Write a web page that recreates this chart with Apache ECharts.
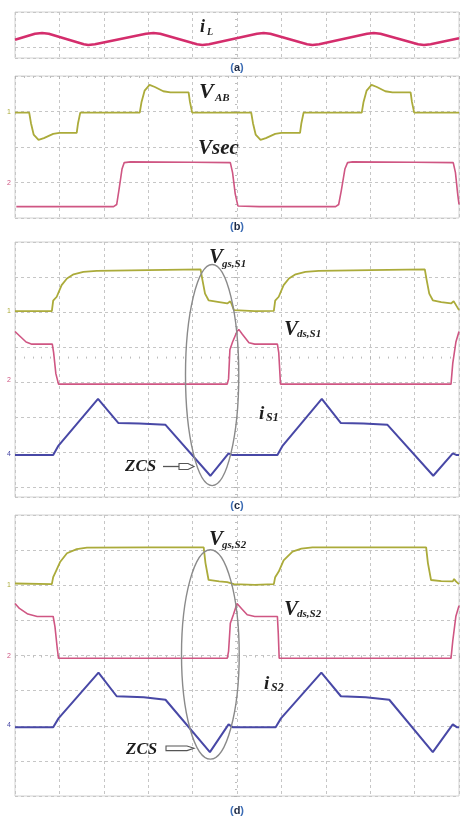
<!DOCTYPE html>
<html>
<head>
<meta charset="utf-8">
<script src="https://cdn.jsdelivr.net/npm/echarts@6/dist/echarts.min.js"></script>
<style>
  html, body { margin: 0; padding: 0; background: #ffffff; }
  #main { width: 461px; height: 820px; }
</style>
</head>
<body>
<div id="main"></div>
<script>
// Scope captures: time in screen divisions (0..10), level in vertical divisions
// relative to each channel's ground marker.

// (a) inductor current
const iL = [[0,-0.02],[0.45,0.15],[0.61,0.17],[0.76,0.15],[1.55,-0.15],[1.65,-0.17],[1.8,-0.15],
  [2.95,0.15],[3.12,0.17],[3.27,0.15],[4.1,-0.15],[4.22,-0.17],[4.37,-0.15],[5.45,0.15],[5.6,0.17],
  [5.75,0.15],[6.58,-0.15],[6.7,-0.17],[6.85,-0.15],[7.93,0.15],[8.08,0.17],[8.23,0.15],[9.08,-0.15],
  [9.21,-0.17],[9.36,-0.15],[10,0.02]];

// (b) bridge voltage and secondary voltage
const vAB = [[0,0],[0.32,0],[0.36,-0.3],[0.42,-0.62],[0.53,-0.77],[0.65,-0.72],[0.86,-0.6],[1.0,-0.57],
  [1.39,-0.57],[1.42,-0.3],[1.47,0],[2.81,0],[2.85,0.3],[2.92,0.62],[3.03,0.78],[3.15,0.72],[3.34,0.6],
  [3.5,0.57],[3.91,0.57],[3.94,0.3],[3.99,0],[5.32,0],[5.36,-0.3],[5.42,-0.62],[5.53,-0.77],[5.65,-0.72],
  [5.86,-0.6],[6.0,-0.57],[6.42,-0.57],[6.45,-0.3],[6.5,0],[7.81,0],[7.85,0.3],[7.92,0.62],[8.03,0.78],
  [8.15,0.72],[8.34,0.6],[8.5,0.57],[8.91,0.57],[8.94,0.3],[8.99,0],[10,0]];
const vSec = [[0.03,-0.66],[2.22,-0.66],[2.29,-0.6],[2.34,-0.2],[2.41,0.4],[2.46,0.58],[2.6,0.6],[4.0,0.59],
  [4.85,0.58],[4.9,0.3],[4.96,-0.3],[5.02,-0.64],[5.5,-0.66],[7.22,-0.66],[7.29,-0.6],[7.35,-0.2],
  [7.43,0.4],[7.49,0.58],[7.6,0.6],[9.0,0.59],[9.87,0.58],[9.92,0.3],[9.97,-0.3],[10,-0.6]];

// (c) switch S1: gate voltage, drain-source voltage, switch current
const vgsS1 = [[0,0],[0.83,0],[0.86,0.3],[0.94,0.41],[1.05,0.74],[1.17,0.93],[1.32,1.05],[1.54,1.12],
  [1.84,1.15],[3.0,1.17],[4.18,1.19],[4.22,0.9],[4.28,0.5],[4.36,0.31],[4.6,0.26],[4.78,0.22],[4.85,0.28],
  [4.88,0.2],[4.93,0.03],[5.4,0],[5.83,0.01],[5.86,0.3],[5.94,0.41],[6.05,0.74],[6.17,0.93],[6.32,1.05],
  [6.54,1.12],[6.84,1.15],[8.0,1.17],[9.23,1.19],[9.27,0.9],[9.33,0.5],[9.41,0.31],[9.6,0.26],[9.82,0.22],
  [9.88,0.28],[9.92,0.2],[10,0.03]];
const vdsS1 = [[0,1.5],[0.1,1.38],[0.25,1.2],[0.38,1.14],[0.84,1.14],[0.87,0.9],[0.92,0.3],[0.98,0],
  [4.78,0],[4.81,0.15],[4.84,0.98],[4.9,1.2],[5.0,1.5],[5.04,1.56],[5.12,1.42],[5.27,1.18],[5.4,1.14],
  [5.91,1.14],[5.94,0.9],[5.98,0],[9.82,0],[9.86,0.6],[9.93,1.2],[10,1.5]];
const iS1 = [[0,0],[0.86,0],[0.98,0.27],[1.87,1.6],[2.33,0.91],[2.8,0.9],[3.39,0.86],[4.4,-0.59],
  [4.81,0.05],[4.9,0],[5.91,0],[6.03,0.27],[6.91,1.6],[7.34,0.91],[7.85,0.9],[8.39,0.86],[9.42,-0.59],
  [9.86,0.05],[9.95,0],[10,0]];

// (d) switch S2: gate voltage, drain-source voltage, switch current
const vgsS2 = [[0,0.02],[0.83,0],[0.86,0.2],[0.9,0.31],[1.02,0.64],[1.17,0.88],[1.39,1.0],[1.62,1.04],
  [3.0,1.05],[4.25,1.05],[4.29,0.6],[4.36,0.12],[4.6,0.08],[4.78,0.06],[4.93,0],[5.4,-0.02],[5.83,0],
  [5.86,0.2],[5.94,0.36],[6.05,0.68],[6.25,0.93],[6.45,1.01],[6.7,1.05],[8.0,1.05],[9.26,1.05],
  [9.3,0.6],[9.37,0.12],[9.6,0.09],[9.86,0.08],[9.89,0.15],[9.93,0.08],[10,0]];
const vdsS2 = [[0,1.56],[0.1,1.42],[0.29,1.26],[0.5,1.19],[0.86,1.19],[0.9,0.9],[0.95,0.3],[0.98,0],
  [4.78,0],[4.81,0.2],[4.85,1.0],[4.92,1.25],[5.0,1.56],[5.1,1.42],[5.23,1.24],[5.4,1.19],[5.91,1.19],
  [5.93,0.7],[5.95,0],[9.82,0],[9.86,0.5],[9.93,1.2],[10,1.5]];
const iS2 = [[0,0],[0.86,0],[0.98,0.25],[1.88,1.55],[2.29,0.88],[2.9,0.85],[3.39,0.78],[4.39,-0.71],
  [4.81,0.08],[4.9,0],[5.87,0],[5.99,0.25],[6.9,1.55],[7.34,0.88],[7.9,0.85],[8.43,0.78],[9.41,-0.71],
  [9.86,0.08],[9.95,0],[10,0]];

// ---- screen layout -------------------------------------------------------
const PX_LEFT = 15, PX_WIDTH = 444;
// centreRow: division (from screen top) of the graticule's horizontal centre line, if visible
const screens = [
  { top: 12,  height: 46,  divs: 46 / 35.1,  centreRow: null },
  { top: 76,  height: 142, divs: 4,          centreRow: 4 },
  { top: 242, height: 255, divs: 255 / 35.1, centreRow: 4 },
  { top: 515, height: 281, divs: 8,          centreRow: 4 }
];

const OLIVE = '#abab3a', PINK = '#cf5683', MAGENTA = '#d42d6c', INDIGO = '#4848a6';

// trace -> screen, channel ground position (divisions below screen top), colour, width
const traces = [
  { data: iL,    screen: 0, ground: 0.77, color: MAGENTA, width: 2.6 },
  { data: vAB,   screen: 1, ground: 1.03, color: OLIVE,   width: 1.8 },
  { data: vSec,  screen: 1, ground: 3.02, color: PINK,    width: 1.6 },
  { data: vgsS1, screen: 2, ground: 1.97, color: OLIVE,   width: 1.8 },
  { data: vdsS1, screen: 2, ground: 4.05, color: PINK,    width: 1.6 },
  { data: iS1,   screen: 2, ground: 6.07, color: INDIGO,  width: 2.0 },
  { data: vgsS2, screen: 3, ground: 1.97, color: OLIVE,   width: 1.8 },
  { data: vdsS2, screen: 3, ground: 4.08, color: PINK,    width: 1.6 },
  { data: iS2,   screen: 3, ground: 6.04, color: INDIGO,  width: 2.0 }
];

const gridLine = { show: true, lineStyle: { color: '#c6c6c6', type: [3, 3], width: 1 } };
const hidden = { axisLine: { show: false }, axisTick: { show: false }, axisLabel: { show: false } };
const centreTicks = {
  axisLine: { show: false }, axisLabel: { show: false }, splitLine: { show: false },
  axisTick: { show: true, length: 3, lineStyle: { color: '#b4b4b4', width: 1 } },
  minorTick: { show: true, splitNumber: 5, length: 2, lineStyle: { color: '#bdbdbd', width: 1 } }
};

const grids = screens.map(s => ({
  left: PX_LEFT, width: PX_WIDTH, top: s.top, height: s.height,
  show: true, borderColor: '#d2d2d2', borderWidth: 1, backgroundColor: 'transparent'
}));

// main axes carry the dashed graticule; extra axes draw the centre-line tick marks
const xAxes = screens.map((s, i) => Object.assign({
  type: 'value', gridIndex: i, min: 0, max: 10, interval: 1, splitLine: gridLine
}, hidden));
const yAxes = screens.map((s, i) => Object.assign({
  type: 'value', gridIndex: i, inverse: true, min: 0, max: s.divs, interval: 1, splitLine: gridLine
}, hidden));
screens.forEach((s, i) => {
  yAxes.push(Object.assign({
    type: 'value', gridIndex: i, inverse: true, min: 0, max: s.divs, interval: 1,
    position: 'left', offset: -PX_WIDTH / 2
  }, centreTicks));
  if (s.centreRow !== null) {
    const rowPx = s.height * s.centreRow / s.divs;
    xAxes.push(Object.assign({
      type: 'value', gridIndex: i, min: 0, max: 10, interval: 1,
      position: 'bottom', offset: -(s.height - rowPx)
    }, centreTicks));
  }
});

const series = traces.map(t => ({
  type: 'line', xAxisIndex: t.screen, yAxisIndex: t.screen,
  data: t.data.map(([time, level]) => [time, t.ground - level]),
  showSymbol: false, smooth: false, sampling: false,
  lineStyle: { color: t.color, width: t.width }
}));

// ---- annotations ------------------------------------------------------
const SERIF = '"Liberation Serif", "DejaVu Serif", serif';
function word(x, y, text, size) {
  return { type: 'text', x, y, z: 50, style: {
    text, fontSize: size, fontFamily: SERIF, fontWeight: 'bold', fontStyle: 'italic',
    fill: '#1d1d1d', align: 'left', verticalAlign: 'middle' } };
}
function caption(x, y, letter) {
  return { type: 'text', x, y, z: 50, style: {
    text: '{p|(}{l|' + letter + '}{p|)}', align: 'center', verticalAlign: 'middle',
    rich: {
      p: { fontSize: 11, fontFamily: '"Liberation Sans", sans-serif', fontWeight: 'bold', fill: '#3c6cb4' },
      l: { fontSize: 11, fontFamily: '"Liberation Sans", sans-serif', fontWeight: 'bold', fill: '#1e2a44' }
    } } };
}
function marker(y, text, color) {
  return { type: 'text', x: 9, y, z: 50, style: {
    text, fontSize: 7, fontFamily: '"Liberation Sans", sans-serif', fill: color,
    align: 'center', verticalAlign: 'middle' } };
}

const labels = [
  word(200, 27, 'i', 18), word(207, 32, 'L', 10),
  caption(237, 68, 'a'),
  word(199, 92, 'V', 22), word(215, 98, 'AB', 11),
  word(198, 149, 'Vsec', 21),
  caption(237, 227, 'b'),
  word(209, 258, 'V', 21), word(222, 264, 'gs,S1', 11),
  word(284, 330, 'V', 21), word(297, 334, 'ds,S1', 11),
  word(259, 414, 'i', 19), word(266, 418, 'S1', 12),
  word(125, 467, 'ZCS', 17),
  caption(237, 506, 'c'),
  word(209, 540, 'V', 21), word(222, 545, 'gs,S2', 11),
  word(284, 610, 'V', 21), word(297, 614, 'ds,S2', 11),
  word(264, 684, 'i', 19), word(271, 688, 'S2', 12),
  word(126, 750, 'ZCS', 17),
  caption(237, 811, 'd'),
  marker(112, '1', OLIVE), marker(183, '2', PINK),
  marker(311, '1', OLIVE), marker(380, '2', PINK), marker(454, '4', INDIGO),
  marker(585, '1', OLIVE), marker(656, '2', PINK), marker(725, '4', INDIGO)
];

// hollow arrows pointing at the current trough
const arrows = [
  { type: 'polyline', z: 50, shape: { points: [[163, 466.5], [179, 466.5]] },
    style: { stroke: '#555', lineWidth: 1.3, fill: null } },
  { type: 'polygon', z: 50, shape: { points: [[179, 463.5], [188, 463.5], [194, 466.5], [188, 469.5], [179, 469.5]] },
    style: { stroke: '#555', lineWidth: 1.1, fill: '#fff' } },
  { type: 'polygon', z: 50, shape: { points: [[166, 746], [187, 746], [194, 748.3], [187, 750.6], [166, 750.6]] },
    style: { stroke: '#555', lineWidth: 1.1, fill: '#fff' } }
];

const chart = echarts.init(document.getElementById('main'), null, { renderer: 'canvas' });
chart.setOption({
  animation: false,
  backgroundColor: '#ffffff',
  grid: grids, xAxis: xAxes, yAxis: yAxes, series,
  graphic: labels.concat(arrows)
});

// ZCS ellipses, placed in each screen's time/division coordinates
const zcsRings = [
  { screen: 2, center: [4.44, 3.79], radius: [0.6, 3.15] },
  { screen: 3, center: [4.40, 3.97], radius: [0.65, 2.98] }
];
const rings = zcsRings.map(r => {
  const c = chart.convertToPixel({ gridIndex: r.screen }, r.center);
  const e = chart.convertToPixel({ gridIndex: r.screen },
    [r.center[0] + r.radius[0], r.center[1] + r.radius[1]]);
  return { type: 'ellipse', z: 40,
    shape: { cx: c[0], cy: c[1], rx: Math.abs(e[0] - c[0]), ry: Math.abs(e[1] - c[1]) },
    style: { stroke: '#8a8a8a', lineWidth: 1.4, fill: null } };
});
chart.setOption({ graphic: labels.concat(arrows, rings) }, { replaceMerge: ['graphic'] });
</script>
</body>
</html>
